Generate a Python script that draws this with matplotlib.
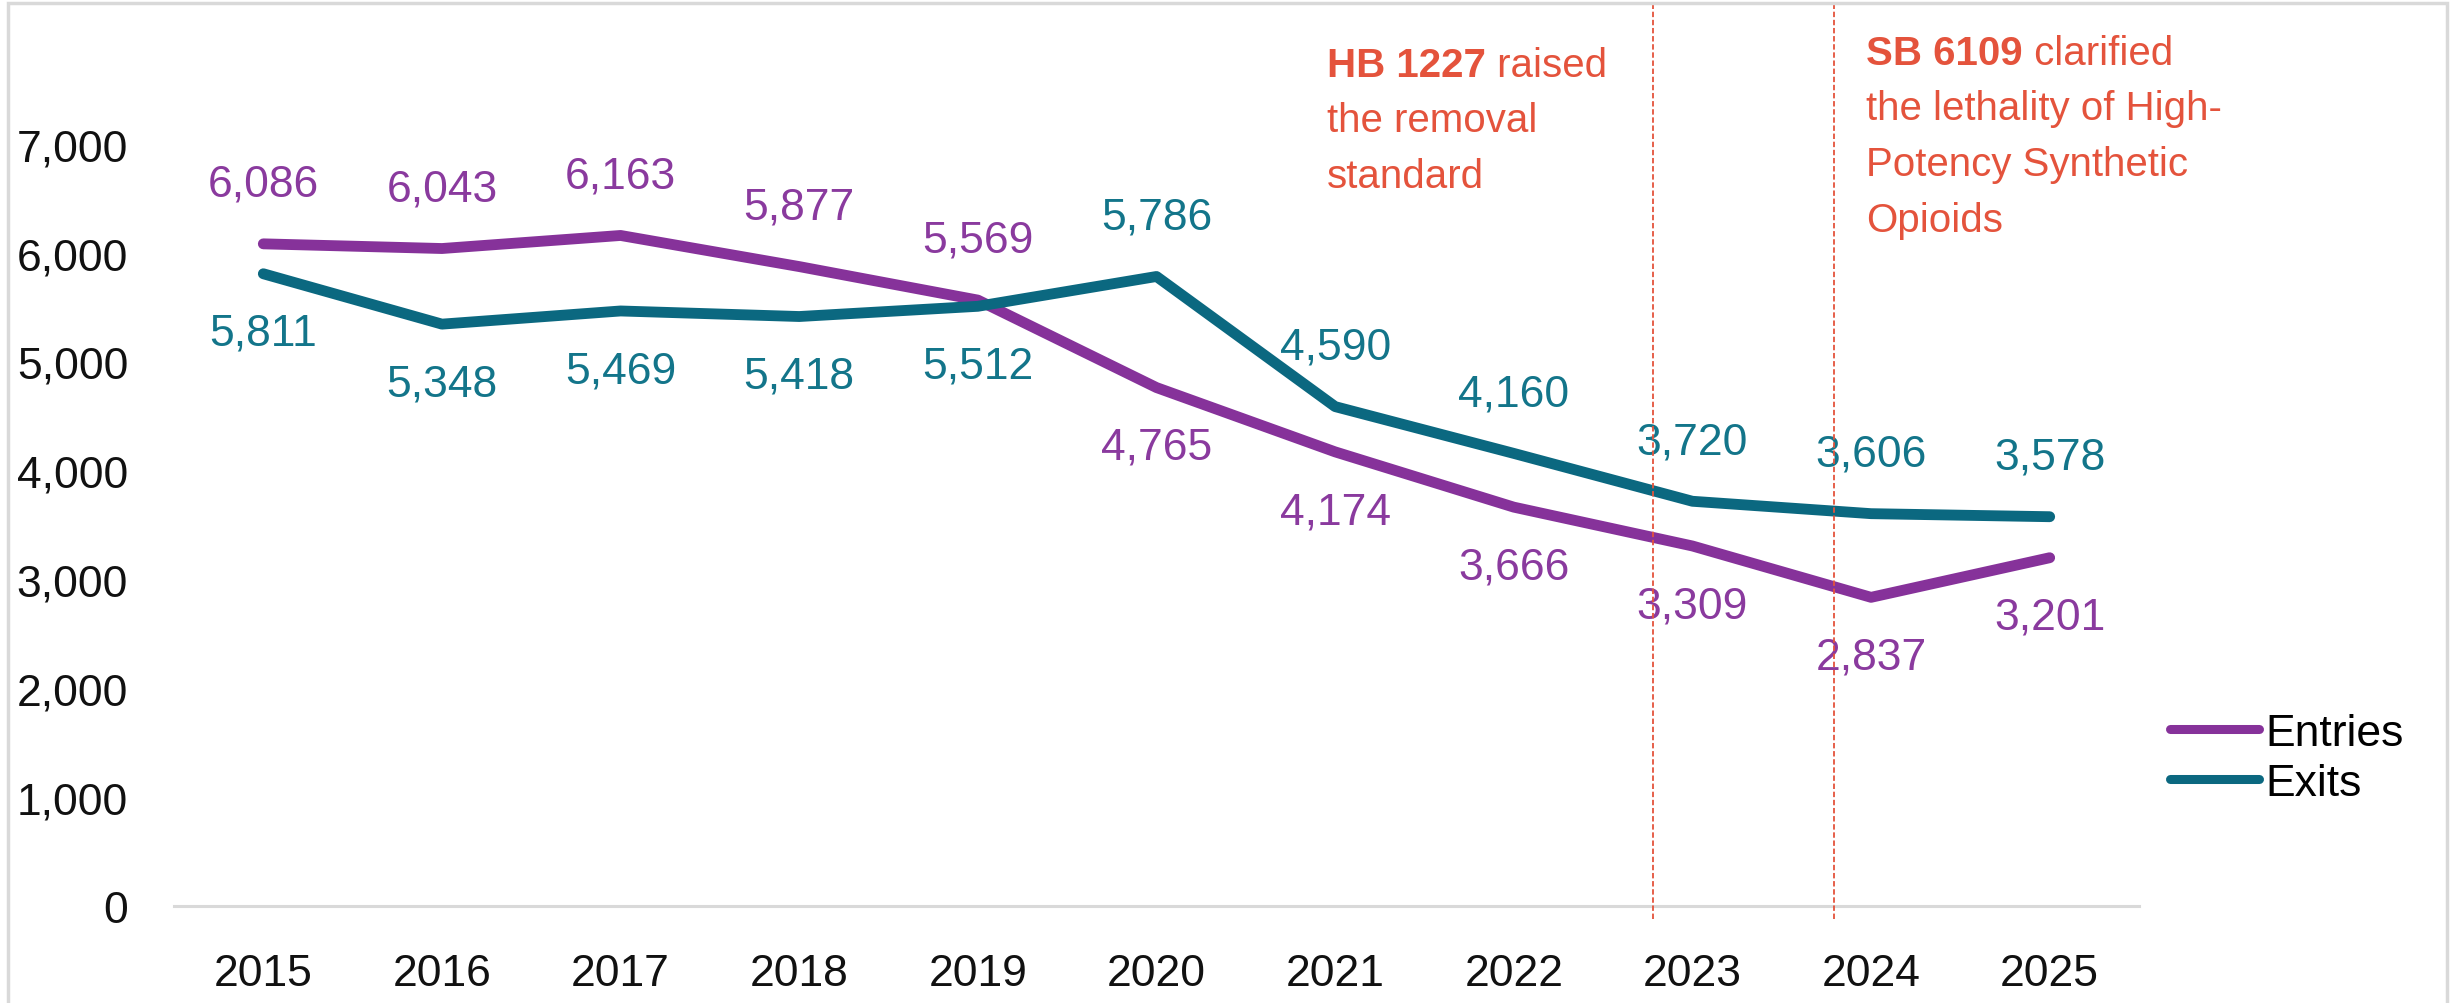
import matplotlib.pyplot as plt
from matplotlib import font_manager
from matplotlib.patches import Rectangle

years = ['2015', '2016', '2017', '2018', '2019', '2020', '2021', '2022', '2023', '2024', '2025']
entries = [6086, 6043, 6163, 5877, 5569, 4765, 4174, 3666, 3309, 2837, 3201]
exits = [5811, 5348, 5469, 5418, 5512, 5786, 4590, 4160, 3720, 3606, 3578]

entries_color = '#86329a'
exits_color = '#0b6880'
entries_label_color = '#8a3a9e'
exits_label_color = '#13758a'
note_color = '#e4533c'

names = {f.name for f in font_manager.fontManager.ttflist}
base_font = 'Liberation Sans' if 'Liberation Sans' in names else 'DejaVu Sans'
narrow_font = 'Liberation Sans Narrow' if 'Liberation Sans Narrow' in names else base_font
plt.rcParams['font.family'] = [base_font, 'DejaVu Sans']

W, H = 2453, 1004
fig = plt.figure(figsize=(W / 100, H / 100), dpi=100)
ax = fig.add_axes([174 / W, 1 - 907 / H, (2139 - 174) / W, (907 - 36.6) / H])

x = list(range(len(years)))
ax.plot(x, entries, color=entries_color, lw=7.8, solid_capstyle='round',
        solid_joinstyle='round', label='Entries', zorder=2)
ax.plot(x, exits, color=exits_color, lw=7.8, solid_capstyle='round',
        solid_joinstyle='round', label='Exits', zorder=2)

# data labels: the higher series gets its label above the point
for i in x:
    up = entries[i] > exits[i]
    ax.annotate(f'{entries[i]:,}', (i, entries[i]), xytext=(0, 43 if up else -43),
                textcoords='offset points', ha='center', va='center',
                fontsize=32, color=entries_label_color)
    ax.annotate(f'{exits[i]:,}', (i, exits[i]), xytext=(0, -43 if up else 43),
                textcoords='offset points', ha='center', va='center',
                fontsize=32, color=exits_label_color)

ax.set_xlim(-0.5, len(years) - 0.5)
ax.set_ylim(0, 8000)
ax.set_xticks(x)
ax.set_xticklabels(years)
ax.set_yticks(range(0, 8000, 1000))
ax.set_yticklabels([f'{v:,}' for v in range(0, 8000, 1000)])
ax.tick_params(axis='both', length=0, labelsize=32, colors='#111111')
ax.tick_params(axis='x', pad=34)
ax.tick_params(axis='y', pad=33)
for s in ['top', 'right', 'left']:
    ax.spines[s].set_visible(False)
ax.spines['bottom'].set_color('#d9d9d9')
ax.spines['bottom'].set_linewidth(2.2)

# dashed markers for the two law changes
for ev in [7.78, 8.79]:
    ax.axvline(ev, ymin=-0.015, ymax=1.04, color=note_color, lw=1.3,
               linestyle=(0, (3, 1.5)), clip_on=False, zorder=3)


def note(px, py, bold, lines):
    t = fig.text(px / W, 1 - py / H, bold, fontsize=29, fontweight='bold',
                 color=note_color, family=[narrow_font, base_font], va='baseline')
    ax.annotate(lines[0], xy=(1, 0), xycoords=t, va='bottom', ha='left',
                fontsize=29, color=note_color, family=[narrow_font, base_font],
                annotation_clip=False)
    for k, line in enumerate(lines[1:]):
        fig.text(px / W, 1 - (py + 55.5 * (k + 1)) / H, line, fontsize=29,
                 color=note_color, family=[narrow_font, base_font], va='baseline')


note(1327, 77, 'HB 1227', [' raised', 'the removal', 'standard'])
note(1866, 65, 'SB 6109', [' clarified', 'the lethality of High-', 'Potency Synthetic', 'Opioids'])

fig.legend(loc='upper left', bbox_to_anchor=(2170 / W, 1 - 714 / H),
           bbox_transform=fig.transFigure, frameon=False, fontsize=32,
           handlelength=2.0, handletextpad=0.15, labelspacing=0.2,
           borderpad=0, borderaxespad=0)
for h in fig.legends[0].get_lines():
    h.set_linewidth(6.5)

# light grey chart-area border
fig.patches.append(Rectangle((8 / W, -0.05), (2447 - 8) / W, 1.05 - 4 / H,
                             transform=fig.transFigure, fill=False,
                             edgecolor='#d9d9d9', lw=2.5))

fig.savefig('out.png', dpi=100)
